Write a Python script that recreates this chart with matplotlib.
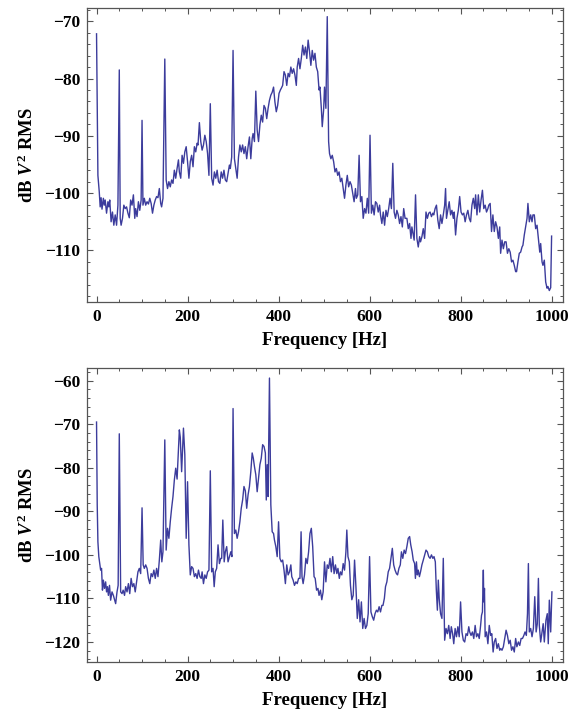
import matplotlib
matplotlib.use("Agg")
import matplotlib.pyplot as plt
from matplotlib.ticker import MultipleLocator

# upper spectrum: frequency [Hz], level [dB]
f_top = [0, 3, 6, 8, 10, 12, 15, 17, 19, 22, 25, 27, 29, 32, 35, 38, 41, 44, 47, 50,
         52, 54, 57, 60, 63, 66, 69, 72, 75, 78, 81, 84, 86, 89, 92, 95, 98, 100,
         102, 105, 108, 111, 114, 117, 120, 123, 126, 129, 132, 135, 138, 141, 143, 146, 150,
         153, 156, 159, 162, 165, 168, 171, 174, 177, 180, 182, 185, 188, 191, 194, 197, 200,
         203, 206, 209, 212, 215, 218, 221, 223, 226, 229, 232, 235, 238, 241, 244, 247, 250,
         253, 256, 259, 262, 265, 268, 271, 274, 277, 280, 283, 286, 289, 292, 294, 297, 300,
         303, 306, 309, 312, 315, 318, 321, 324, 327, 330, 333, 336, 339, 342, 344, 347, 350,
         353, 356, 359, 362, 365, 368, 371, 374, 377, 380, 383, 386, 389, 392, 395, 398, 401,
         404, 406, 409, 412, 415, 418, 421, 424, 427, 430, 433, 436, 439, 441, 444, 447, 450,
         453, 456, 459, 462, 465, 468, 471, 474, 477, 480, 483, 486, 489, 491, 494, 496, 499,
         501, 504, 507, 510, 512, 515, 518, 521, 524, 527, 530, 533, 536, 539, 542, 545, 548,
         551, 554, 557, 560, 563, 566, 569, 571, 574, 577, 580, 583, 586, 589, 592, 595, 598,
         601, 604, 607, 610, 613, 616, 619, 622, 624, 627, 630, 633, 636, 639, 642, 645, 648,
         651, 654, 657, 660, 663, 666, 669, 672, 675, 678, 682, 685, 688, 691, 693, 696, 698,
         701, 704, 707, 710, 712, 715, 718, 721, 724, 727, 730, 733, 736, 739, 741, 744, 747,
         750, 753, 756, 759, 762, 765, 767, 769, 772, 775, 778, 781, 784, 786, 789, 792, 795,
         798, 801, 804, 807, 810, 813, 816, 819, 822, 825, 828, 831, 833, 836, 839, 842, 845,
         848, 851, 854, 857, 860, 862, 865, 868, 871, 874, 877, 880, 883, 886, 888, 891, 894,
         897, 900, 903, 906, 909, 912, 915, 918, 921, 923, 926, 929, 932, 935, 937, 940, 943,
         946, 948, 951, 954, 957, 959, 962, 965, 968, 971, 974, 976, 979, 981, 984, 987, 990,
         992, 995, 998, 1000]
db_top = [-72.2, -96.9, -99.8, -102.4, -100.8, -102.8, -100.9, -102.1, -101.2, -103.5, -101.5,
          -102.4, -101.2, -105.0, -103.3, -105.6, -103.8, -105.6, -102.1, -78.5,
          -104.4, -105.6, -104.4, -102.1, -102.7, -102.4, -103.5, -104.3, -101.2, -102.1, -100.3,
          -104.4, -102.7, -104.1, -101.5, -103.0, -101.2, -87.3,
          -102.1, -100.9, -102.1, -101.5, -101.9, -100.9, -101.8, -103.5, -102.1, -101.2, -100.6,
          -100.8, -99.2, -101.8, -102.4, -100.9, -76.6,
          -97.7, -99.2, -98.0, -98.9, -97.7, -98.3, -96.0, -97.4, -95.7, -94.2, -96.3, -97.4,
          -93.4, -94.8, -92.8, -91.9, -94.5,
          -97.4, -94.5, -93.4, -95.4, -91.9, -92.8, -91.3, -91.6, -87.7, -91.0, -92.5, -91.6,
          -89.9, -91.0, -93.1, -96.9, -84.4,
          -97.4, -98.6, -96.3, -97.4, -96.0, -98.0, -98.3, -96.3, -97.4, -96.0, -97.7, -98.0,
          -96.6, -95.1, -95.7, -93.7, -75.1,
          -94.0, -95.7, -97.4, -93.7, -91.6, -92.8, -91.6, -93.1, -91.9, -94.0, -91.9, -90.2,
          -94.0, -90.5, -89.6, -91.0, -82.2,
          -89.0, -91.0, -88.1, -86.4, -87.6, -84.7, -85.2, -87.0, -85.2, -83.8, -82.9, -82.4,
          -81.5, -84.1, -85.8, -84.7, -82.6,
          -82.0, -81.7, -81.2, -78.8, -79.4, -81.2, -79.1, -79.7, -78.0, -79.1, -78.3, -79.4,
          -81.2, -78.0, -76.5, -78.3, -76.5,
          -74.2, -75.9, -74.5, -76.5, -73.3, -75.3, -77.7, -75.1, -76.8, -75.6, -78.0, -78.8,
          -82.0, -81.5, -85.2, -88.4, -85.5,
          -81.5, -85.2, -69.2, -91.0, -93.1, -94.0, -93.4, -94.5, -96.3, -95.7, -96.9, -96.3,
          -98.0, -97.4, -99.2, -100.9, -98.6,
          -96.9, -98.9, -98.0, -98.6, -100.1, -101.5, -99.2, -100.9, -100.3, -93.4, -101.5,
          -100.6, -104.4, -102.7, -103.5, -100.9, -103.5,
          -89.9, -103.5, -102.1, -103.8, -101.5, -101.8, -103.3, -102.1, -103.8, -105.3, -103.3,
          -105.6, -103.0, -104.1, -102.7, -100.9, -102.7,
          -94.8, -103.3, -104.4, -103.0, -103.8, -105.3, -104.1, -105.9, -102.7, -104.4, -104.4,
          -106.2, -105.3, -107.9, -105.9, -107.3, -108.2,
          -100.3, -107.9, -109.4, -107.6, -108.5, -107.6, -106.2, -107.9, -103.3, -104.4, -103.5,
          -103.3, -104.1, -103.5, -103.8, -102.7, -102.1,
          -104.7, -106.2, -103.8, -105.3, -103.8, -102.1, -99.2, -104.4, -103.0, -101.5, -103.8,
          -103.0, -104.4, -103.3, -107.3, -104.4, -103.0,
          -100.6, -103.3, -103.8, -103.5, -105.0, -103.8, -103.0, -104.4, -105.0, -102.1, -100.9,
          -102.7, -100.3, -103.8, -100.3, -103.3, -101.2,
          -99.5, -102.7, -102.1, -103.3, -102.7, -102.1, -101.8, -106.7, -103.8, -106.7, -105.0,
          -105.9, -107.9, -105.9, -110.5, -108.2, -109.7,
          -108.5, -108.5, -110.5, -109.7, -110.3, -112.0, -111.7, -112.6, -113.7, -113.7, -112.0,
          -110.5, -110.3, -109.4, -109.1, -107.3, -105.9,
          -104.4, -101.8, -105.0, -103.8, -105.0, -103.8, -103.8, -106.2, -105.6, -107.9, -110.3,
          -108.8, -112.0, -112.6, -111.7, -115.5, -116.6,
          -116.3, -117.0, -116.5, -107.5]

# lower spectrum
f_bot = [0, 1.5, 3, 5, 7, 9, 11, 13, 15, 17.5, 20, 22, 24, 26, 28.5, 31, 34, 37, 40, 42, 45,
         47.5, 50, 53, 56, 58.5, 61.5, 64, 67, 70, 73, 76, 79, 82, 85, 88, 91, 94, 97, 100,
         102.5, 105, 108, 111, 114, 117, 120, 123, 126, 129, 132, 135, 138, 141, 143.5, 146, 150,
         153, 156, 159, 162, 165, 168, 171, 174, 177, 180, 182, 184, 187, 189, 191, 194, 197, 200,
         203, 206, 209, 212, 215, 218, 221, 224, 227, 230, 232, 235, 238, 241, 244, 247, 250,
         253, 256, 258.5, 261, 264, 267, 270, 273, 275, 277.5, 280.5, 283, 286, 289, 292, 295,
         297.5, 300, 303, 306, 309, 312, 315, 318, 321, 324, 327, 330, 333, 336, 339, 342, 344.5,
         347, 350, 353, 356, 359, 362, 365, 368, 371, 373, 375, 377, 380, 383, 386, 389, 391,
         394, 397, 400, 403, 406, 409, 412, 415, 418, 421, 424, 427, 429, 432, 435, 438, 441,
         444, 447, 449.5, 451.5, 454, 457, 460, 463, 466, 469, 472, 475, 478, 480.5, 483.5,
         486.5, 489, 492, 495, 498, 501, 504, 507, 510, 513, 516, 519, 522, 525, 528, 530.5,
         533.5, 536, 539, 542, 545, 548, 550, 552.5, 555.5, 558, 561, 564, 567, 570, 573, 576,
         579, 582, 585, 588, 591, 594, 597, 600, 603, 606, 609, 612, 615, 618, 621, 624, 627,
         629.5, 632.5, 635, 638, 641, 644, 647, 650, 653, 656, 659, 661.5, 664.5, 667.5, 670,
         673, 676, 679, 682, 685, 688, 690.5, 693.5, 696, 699, 700.7, 703, 705, 707, 709.5, 712,
         715, 718, 721, 724, 727, 730, 733, 736, 739, 741.6, 744.5, 746.7, 749, 751, 753, 756,
         759, 762, 765, 768, 771, 774, 777, 779.6, 782.5, 785, 788, 791, 794, 797, 800, 803,
         806, 809, 812, 815, 818, 820, 823, 826, 829, 832, 835, 838, 841, 844, 846, 848, 850,
         851, 852.5, 854, 857, 860, 863, 866, 868.6, 871.5, 874, 877, 880, 883, 886, 888.3, 891,
         894, 897, 900, 903, 906, 909, 912, 915, 918, 921, 923.7, 927, 930, 933, 936, 939, 941.6,
         944.5, 947, 949, 951, 954, 957, 960, 963, 966, 968.6, 971, 973, 976, 979, 981.5, 984,
         987.6, 990.5, 992.7, 995, 998, 1000.7]
db_bot = [-69.5, -88.5, -97.0, -100.4, -102.0, -103.5, -103.1, -108.1, -105.8, -107.7, -106.2,
          -108.5, -107.3, -109.3, -107.0, -110.4, -108.5, -109.3, -110.4, -111.2, -108.5,
          -107.0, -72.2, -108.5, -108.9, -108.1, -109.3, -107.3, -108.5, -106.6, -108.9, -105.4,
          -107.3, -106.6, -108.5, -106.2, -103.9, -103.1, -104.3, -89.2,
          -102.3, -103.1, -102.3, -103.1, -105.4, -106.6, -104.3, -105.0, -103.5, -105.4, -103.1,
          -105.0, -101.2, -96.6, -101.6, -99.3, -73.6,
          -98.9, -93.9, -96.2, -92.4, -89.3, -86.6, -82.8, -80.1, -82.6, -76.0, -71.3, -73.0,
          -80.9, -76.0, -70.9, -77.0, -96.2, -83.2,
          -97.7, -104.6, -102.7, -103.1, -105.0, -104.3, -105.4, -103.5, -105.0, -105.4, -103.9,
          -106.6, -104.6, -105.4, -103.9, -103.5, -80.7,
          -103.9, -103.1, -107.3, -103.9, -103.1, -97.7, -102.0, -100.8, -100.8, -92.0, -101.6,
          -99.3, -98.1, -101.6, -100.4, -99.3,
          -100.4, -66.4, -95.1, -94.3, -96.2, -94.7, -92.4, -89.3, -87.4, -84.3, -85.3, -89.3,
          -86.2, -84.3, -80.9, -76.6, -77.8,
          -79.7, -81.6, -85.5, -82.4, -79.3, -77.8, -74.7, -75.1, -76.6, -87.4, -79.3, -86.6,
          -59.4, -88.5, -94.7, -95.1, -96.6,
          -98.1, -100.4, -92.4, -100.8, -101.6, -101.2, -103.5, -106.6, -102.3, -104.6, -103.9,
          -102.3, -105.0, -105.8, -107.0, -106.2, -106.6,
          -105.4, -105.4, -94.7, -105.0, -106.6, -104.6, -100.8, -102.0, -99.3, -95.1, -93.9,
          -98.1, -105.0, -105.4, -108.1,
          -107.7, -109.3, -108.1, -110.3, -108.5, -101.6, -106.2, -102.3, -103.1, -100.8, -103.9,
          -100.4, -104.3, -102.3, -104.3, -103.1,
          -105.4, -103.9, -104.6, -102.0, -103.5, -99.3, -94.3, -100.4, -101.6, -107.0, -110.3,
          -109.3, -101.2, -107.3, -114.6, -110.3,
          -115.4, -110.8, -116.9, -114.6, -116.9, -116.2, -113.5, -100.4, -113.1, -114.2, -115.0,
          -113.5, -112.7, -113.1, -111.9, -113.1, -111.6,
          -111.6, -110.0, -107.3, -106.2, -103.9, -103.1, -100.8, -98.5, -102.3, -103.5, -104.3,
          -104.6, -103.1, -102.3, -99.3,
          -100.8, -98.9, -99.7, -98.1, -96.2, -95.8, -97.7, -99.3, -101.2, -102.0, -105.4, -101.6,
          -104.6, -103.5, -105.0, -103.9,
          -102.3, -101.2, -100.0, -98.9, -99.3, -100.4, -100.8, -100.0, -100.8, -100.4, -101.6,
          -108.1, -112.7, -105.8, -110.0, -113.5,
          -114.6, -100.8, -119.6, -116.9, -118.1, -116.2, -119.2, -116.5, -118.1, -120.4, -116.9,
          -118.8, -116.5, -118.8, -110.8, -117.7,
          -119.6, -120.0, -118.1, -118.5, -116.5, -117.7, -118.5, -117.7, -119.2, -116.2, -118.8,
          -118.1, -119.2, -116.2, -113.9, -113.1, -103.5,
          -110.8, -107.7, -118.8, -117.7, -120.4, -116.2, -118.5, -118.1, -122.3, -120.0, -119.2,
          -121.5, -120.4, -121.9, -121.5, -121.9,
          -121.1, -119.2, -117.3, -118.5, -120.4, -119.6, -121.9, -121.1, -122.3, -119.2, -121.1,
          -120.0, -120.8, -119.2, -119.2, -118.5, -117.7,
          -118.5, -113.5, -102.0, -117.7, -116.9, -118.8, -116.9, -109.6, -117.7, -115.8, -105.4,
          -116.2, -120.0, -117.7, -115.8, -120.0,
          -115.0, -113.5, -120.4, -110.4, -117.7, -108.5]

x_ticks = [0, 200, 400, 600, 800, 1000]
top_yticks = [-70, -80, -90, -100, -110]
bot_yticks = [-60, -70, -80, -90, -100, -110, -120]

plt.rcParams['font.family'] = 'Liberation Serif'
plt.rcParams['font.weight'] = 'bold'
plt.rcParams['axes.labelweight'] = 'bold'
plt.rcParams['mathtext.fontset'] = 'custom'
plt.rcParams['mathtext.rm'] = 'Liberation Serif:bold'
plt.rcParams['mathtext.it'] = 'Liberation Serif:italic:bold'
plt.rcParams['mathtext.bf'] = 'Liberation Serif:bold'

line_col = '#3c3c9c'
frame_col = '#555555'

fig = plt.figure(figsize=(5.73, 7.17), dpi=100)
ax1 = fig.add_axes([0.1518, 0.5788, 0.8307, 0.41])
ax2 = fig.add_axes([0.1518, 0.0767, 0.8307, 0.41])


def style(ax, yticks, ylim):
    ax.set_xlim(-21, 1025)
    ax.set_ylim(*ylim)
    ax.set_xticks(x_ticks)
    ax.set_yticks(yticks)
    ax.set_yticklabels(['\u2212%d' % abs(t) for t in yticks])
    ax.xaxis.set_minor_locator(MultipleLocator(50))
    ax.yaxis.set_minor_locator(MultipleLocator(2))
    ax.tick_params(which='both', direction='in', top=True, right=True,
                   color=frame_col, labelsize=12.5, labelcolor='black')
    ax.tick_params(which='major', length=4.5, width=0.8, pad=5)
    ax.tick_params(which='minor', length=2.3, width=0.7)
    for s in ax.spines.values():
        s.set_color(frame_col)
        s.set_linewidth(0.9)
    ax.set_xlabel('Frequency [Hz]', fontsize=13.5, labelpad=5)
    ax.set_ylabel(r'dB $V^{\mathbf{2}}$ RMS', fontsize=13.5, labelpad=5)


ax1.plot(f_top, db_top, color=line_col, lw=1.0)
style(ax1, top_yticks, (-119.0, -67.7))

ax2.plot(f_bot, db_bot, color=line_col, lw=1.0)
style(ax2, bot_yticks, (-124.6, -57.1))

fig.savefig('out.png', dpi=100)
